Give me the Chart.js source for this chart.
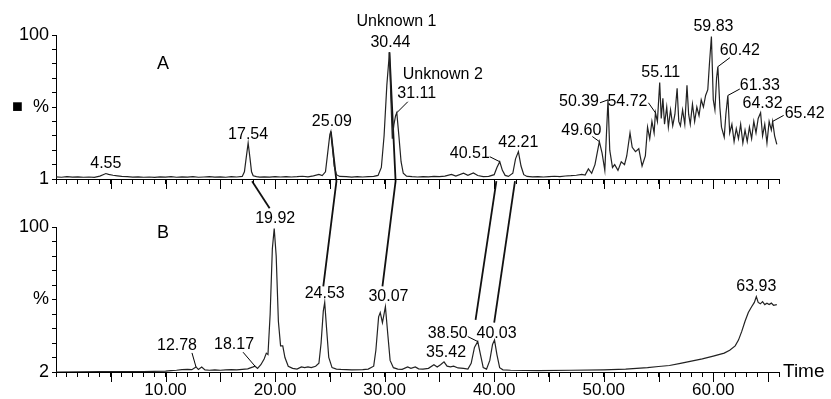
<!DOCTYPE html>
<html>
<head>
<meta charset="utf-8">
<script src="https://cdn.jsdelivr.net/npm/chart.js@4.4.0/dist/chart.umd.min.js"></script>
<style>
  html, body { margin: 0; padding: 0; background: #fff; }
  #wrap { position: relative; width: 831px; height: 399px; }
  #wrap canvas { position: absolute; left: 0; top: 0; }
</style>
</head>
<body>
<div id="wrap">
  <canvas id="chartB" width="831" height="399"></canvas>
  <canvas id="chartA" width="831" height="399"></canvas>
</div>
<script>
// chromatogram A, [time, %]
const traceA = [
  [0,1.5],[0.5,1.2],[1,1.6],[1.5,1.3],[2,1.5],[2.5,1.2],[3,1.4],[3.5,1.1],[4,2.0],[4.3,3.0],
  [4.55,3.8],[4.8,3.2],[5.2,2.6],[5.6,2.2],[6,1.8],[6.5,1.6],[7,1.3],[7.5,1.5],[8,1.2],[8.5,1.4],
  [9,1.1],[9.5,1.5],[10,1.3],[10.5,1.6],[11,1.2],[11.5,1.5],[12,1.3],[12.5,1.6],[13,1.2],[13.5,1.4],
  [14,1.6],[14.5,1.3],[15,1.5],[15.5,1.2],[16,1.6],[16.5,1.4],[17,1.8],[17.2,5],[17.35,14],[17.54,25],
  [17.7,15],[17.85,5],[18,2.2],[18.3,1.6],[18.6,1.3],[19,1.5],[19.5,1.3],[20,1.6],[20.5,1.4],[21,1.7],
  [21.5,1.4],[22,1.6],[22.5,1.9],[23,1.5],[23.5,2.2],[24,3.2],[24.3,2.4],[24.6,5],[24.8,18],[25,31],
  [25.09,33],[25.25,22],[25.4,9],[25.6,3],[25.9,1.8],[26.5,1.6],[27,1.3],[27.5,1.6],[28,1.4],[28.5,1.7],
  [29,1.8],[29.4,2.5],[29.7,8],[29.95,30],[30.2,65],[30.44,88],[30.55,60],[30.7,28],[30.85,38],[31,44],
  [31.11,46],[31.3,30],[31.5,12],[31.7,4],[32,2],[32.5,1.6],[33,1.4],[33.5,1.7],[34,1.5],[34.5,1.8],
  [35,1.6],[35.5,2.0],[36.1,3.2],[36.5,2.0],[37.2,4.0],[37.6,2.6],[38.1,4.2],[38.5,2.4],[39,1.6],[39.5,1.8],
  [40,3],[40.25,8],[40.51,12],[40.75,6],[41,2.5],[41.3,1.8],[41.7,4],[41.95,14],[42.21,19],[42.45,9],
  [42.7,3],[43,1.8],[43.5,1.5],[44,1.6],[44.5,1.4],[45,1.7],[45.5,1.9],[46,1.7],[46.5,2.1],[47,2.3],
  [47.5,2.6],[48,3.2],[48.3,2.8],[48.6,7],[48.9,4],[49.2,10],[49.6,26],[49.85,18],[50.1,6],[50.39,55],
  [50.55,20],[50.8,8],[51,10],[51.3,6],[51.6,12],[51.9,10],[52.1,16],[52.4,32],[52.6,22],[52.9,19],
  [53.2,21],[53.5,9],[53.8,16],[54,36],[54.2,28],[54.4,40],[54.6,32],[54.72,46],[54.9,40],[55.11,67],
  [55.25,42],[55.4,56],[55.55,38],[55.75,50],[55.9,36],[56.1,48],[56.3,37],[56.5,45],[56.7,63],[56.85,40],
  [57,37],[57.2,48],[57.4,38],[57.6,65],[57.75,45],[57.9,38],[58.1,52],[58.3,40],[58.5,50],[58.7,44],
  [58.9,55],[59.1,50],[59.3,58],[59.5,62],[59.65,80],[59.83,99],[60,55],[60.15,48],[60.3,70],[60.42,78],
  [60.6,50],[60.75,36],[61,29],[61.15,45],[61.33,58],[61.5,32],[61.7,38],[61.9,26],[62.1,35],[62.3,28],
  [62.5,38],[62.7,25],[62.9,34],[63.1,26],[63.3,36],[63.5,28],[63.7,40],[63.9,32],[64.1,42],[64.32,46],
  [64.5,30],[64.7,38],[64.9,25],[65.1,40],[65.3,34],[65.42,40],[65.6,30],[65.8,24]
];

// chromatogram B, [time, %]
const traceB = [
  [0,0],[2,0.1],[4,0.2],[6,0.2],[8,0.3],[10,0.6],[10.5,0.9],[11,1.2],[11.5,1.6],[12,1.8],
  [12.4,1.6],[12.78,3.5],[13,1.8],[13.3,3.4],[13.6,1.4],[14,1.2],[14.5,1.5],[15,1.2],[15.5,1.5],[16,1.6],
  [16.5,1.4],[17,1.8],[17.5,2.2],[18,3.5],[18.17,4],[18.4,2.5],[18.7,5],[19,9],[19.2,13],[19.35,12],
  [19.55,40],[19.75,85],[19.92,99],[20.1,80],[20.3,35],[20.5,18],[20.7,18],[20.9,10],[21.2,4],[21.6,2.5],
  [22,2],[22.4,3.5],[22.7,3],[23,3.5],[23.3,3],[23.7,4],[24,6],[24.2,20],[24.4,42],[24.53,48],
  [24.7,30],[24.9,10],[25.2,3],[25.6,2],[26,1.8],[27,1.5],[28,1.6],[28.5,2],[29,4],[29.2,15],
  [29.45,38],[29.6,41],[29.8,34],[30.07,45],[30.3,25],[30.5,8],[30.8,3],[31.2,2],[31.6,1.8],[32.1,3.5],
  [32.4,2.5],[32.8,3.5],[33.1,2.2],[33.5,2],[34,2.5],[34.5,5],[34.8,3.5],[35.1,5],[35.42,7],[35.7,4],
  [36,3.5],[36.3,4],[36.7,2.8],[37.2,2.5],[37.6,2],[37.9,6],[38.2,17],[38.5,21],[38.75,12],[39,3],
  [39.3,2],[39.6,8],[39.85,19],[40.03,22],[40.25,12],[40.5,3],[40.8,1.5],[41.5,1.2],[44,1.0],[47,1.2],
  [50,1.5],[52,2.0],[54,3.0],[55,3.8],[56,4.5],[57,6],[58,7.5],[59,9],[60,11],[61,13],
  [61.5,15],[62,18],[62.3,22],[62.6,28],[62.9,35],[63.2,41],[63.5,45],[63.75,48],[63.93,52],[64.1,48],
  [64.3,47],[64.5,48.5],[64.7,46.5],[64.9,47.5],[65.1,46.5],[65.3,47.5],[65.5,46],[65.8,46.5]
];

// labelled peaks (retention times)
const peaksA = [4.55, 17.54, 25.09, 30.44, 31.11, 40.51, 42.21, 49.60, 50.39, 54.72, 55.11, 59.83, 60.42, 61.33, 64.32, 65.42];
const peaksB = [12.78, 18.17, 19.92, 24.53, 30.07, 35.42, 38.50, 40.03, 63.93];
const namesA = { "30.44": "Unknown 1", "31.11": "Unknown 2" };

// lines matching peaks in A to peaks in B
const linkApexA = [null, 25.09, 30.44, null, null];
const linkTopTime = [17.9, 25.6, 31.0, 40.2, 41.9];
const linkBottomTime = [19.5, 24.4, 29.8, 38.3, 40.0];
const linkBottomValue = [113, 59, 59, 36, 34];

const xLabels = [10, 20, 30, 40, 50, 60];

// label placement (px from apex) + leader start (px from label centre)
const offA = {
  "4.55": [0, -9.5], "17.54": [0, -8], "25.09": [1, -9.5], "30.44": [1, -10],
  "31.11": [20, -19, -9, 8], "40.51": [-30, -8, 20, 3], "42.21": [0, -9],
  "49.60": [-18, -11, 11, 6], "50.39": [-29, 2, 21, 1], "54.72": [-28, -11, 21, 1],
  "55.11": [1, -9.5], "59.83": [2, -10], "60.42": [22, -16, -10, 7],
  "61.33": [32, -9.5, -20, 3], "64.32": [2, -9], "65.42": [32, -8, -21, 2]
};
const offB = {
  "12.78": [-19, -21, 15, 7], "18.17": [-21, -22, 9, 8], "19.92": [1, -10],
  "24.53": [0, -8.5], "30.07": [3, -10.5], "35.42": [2, -9],
  "38.50": [-30, -8, 20, 3], "40.03": [2, -7], "63.93": [0, -10.5]
};
const nameOff = { "30.44": [6, -21], "31.11": [26, -19] };

const FONT = '"Liberation Sans", Arial, sans-serif';
Chart.defaults.font.family = FONT;
Chart.defaults.color = '#000';

function nearest(trace, t) {
  let best = trace[0];
  trace.forEach(p => { if (Math.abs(p[0] - t) < Math.abs(best[0] - t)) best = p; });
  return best;
}

function labelsPlugin(trace, peaks, offs, panel, pos) {
  return {
    id: 'peakLabels' + panel,
    afterDatasetsDraw(chart) {
      const { ctx, scales: { x, y } } = chart;
      ctx.save();
      ctx.fillStyle = '#000';
      ctx.strokeStyle = '#000';
      ctx.lineWidth = 1;
      ctx.textAlign = 'center';
      ctx.textBaseline = 'middle';
      ctx.font = '18px ' + FONT;
      ctx.fillText(panel, x.getPixelForValue(pos[0]), y.getPixelForValue(pos[1]));
      ctx.font = '16px ' + FONT;
      peaks.forEach(t => {
        const key = t.toFixed(2);
        const p = nearest(trace, t);
        const px = x.getPixelForValue(p[0]);
        const py = y.getPixelForValue(p[1]);
        const o = offs[key];
        const lx = px + o[0], ly = py + o[1];
        ctx.fillText(key, lx, ly);
        if (o.length > 2) {
          ctx.beginPath();
          ctx.moveTo(lx + o[2], ly + o[3]);
          ctx.lineTo(px, py);
          ctx.stroke();
        }
        if (panel === 'A' && namesA[key]) {
          ctx.fillText(namesA[key], lx + nameOff[key][0], ly + nameOff[key][1]);
        }
      });
      ctx.restore();
    }
  };
}

const longTicks = {
  id: 'longTicks',
  afterDraw(chart) {
    const { ctx, scales: { x }, chartArea } = chart;
    ctx.save();
    ctx.strokeStyle = '#000';
    ctx.lineWidth = 1;
    for (let t = 5; t <= 65; t += 5) {
      const px = Math.round(x.getPixelForValue(t)) + 0.5;
      ctx.beginPath();
      ctx.moveTo(px, chartArea.bottom);
      ctx.lineTo(px, chartArea.bottom + 10);
      ctx.stroke();
    }
    if (chart.canvas.id === 'chartB') {
      ctx.font = '19px ' + FONT;
      ctx.fillStyle = '#000';
      ctx.textBaseline = 'middle';
      ctx.fillText('Time', chartArea.right + 4, chartArea.bottom);
    }
    ctx.restore();
  }
};

function makeOptions(bottomLabel, squareMark, pad, xHeight, showX) {
  return {
    responsive: false,
    animation: false,
    events: [],
    layout: { padding: pad },
    plugins: { legend: { display: false }, tooltip: { enabled: false } },
    scales: {
      x: {
        type: 'linear', min: 0, max: 66,
        afterFit: s => { s.height = xHeight; },
        border: { color: '#000', width: 1 },
        grid: { drawOnChartArea: false, tickLength: 5, color: '#000' },
        ticks: {
          display: showX, stepSize: 1, autoSkip: false, maxRotation: 0, minRotation: 0,
          padding: 3, color: '#000', font: { size: 17 },
          callback: v => xLabels.includes(v) ? v.toFixed(2) : ''
        }
      },
      y: {
        min: 0, max: 100,
        afterFit: s => { s.width = 56; },
        border: { color: '#000', width: 1 },
        grid: { drawOnChartArea: false, tickLength: 4, color: '#000' },
        ticks: {
          stepSize: 10, autoSkip: false, padding: 3, color: '#000', font: { size: 18 },
          callback: v => v === 100 ? '100' : v === 50 ? (squareMark ? '\u25A0  %' : '%') : v === 0 ? bottomLabel : ''
        }
      }
    }
  };
}

const lineStyle = { borderColor: '#222', borderWidth: 1.2, pointRadius: 0, tension: 0 };

const chartB = new Chart(document.getElementById('chartB'), {
  type: 'line',
  data: { datasets: [Object.assign({ data: traceB.map(p => ({ x: p[0], y: p[1] })) }, lineStyle)] },
  options: makeOptions('2', false, { left: 0, right: 52, top: 227, bottom: 0 }, 27, true),
  plugins: [labelsPlugin(traceB, peaksB, offB, 'B', [9.77, 96]), longTicks]
});

const chartA = new Chart(document.getElementById('chartA'), {
  type: 'line',
  data: { datasets: [Object.assign({ data: traceA.map(p => ({ x: p[0], y: p[1] })) }, lineStyle)] },
  options: makeOptions('1', true, { left: 0, right: 52, top: 35, bottom: 210 }, 10, false),
  plugins: [labelsPlugin(traceA, peaksA, offA, 'A', [9.77, 80]), longTicks]
});

// connectors are drawn in chart B; A values are mapped through both y scales
const toB = v => chartB.scales.y.getValueForPixel(chartA.scales.y.getPixelForValue(v));
linkBottomTime.forEach((tb, i) => {
  const pts = [];
  if (linkApexA[i] !== null) {
    const p = nearest(traceA, linkApexA[i]);
    pts.push({ x: p[0], y: toB(p[1]) });
  }
  pts.push({ x: linkTopTime[i], y: toB(-1.5) });
  pts.push({ x: tb, y: linkBottomValue[i] });
  chartB.data.datasets.push({ data: pts, borderColor: '#111', borderWidth: 1.8, pointRadius: 0, tension: 0, clip: false });
});
chartB.update('none');
</script>
</body>
</html>
